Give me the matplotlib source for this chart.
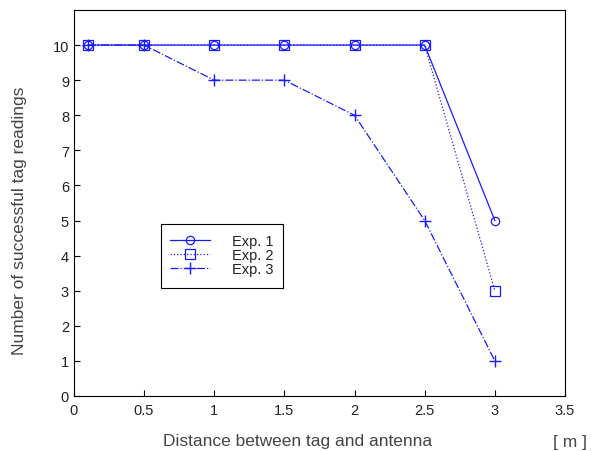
import matplotlib
matplotlib.use("Agg")
import matplotlib.pyplot as plt
from matplotlib.patches import Rectangle

plt.rcParams['font.family'] = ['Liberation Sans', 'DejaVu Sans']

distance = [0.1, 0.5, 1.0, 1.5, 2.0, 2.5, 3.0]
exp1 = [10, 10, 10, 10, 10, 10, 5]
exp2 = [10, 10, 10, 10, 10, 10, 3]
exp3 = [10, 10, 9, 9, 8, 5, 1]

x_ticks = [0, 0.5, 1, 1.5, 2, 2.5, 3, 3.5]
y_ticks = list(range(0, 11))

fig = plt.figure(figsize=(5.91, 4.52), dpi=100)
ax = fig.add_axes([0.125, 0.1217, 0.831, 0.854])

blue = '#1a1aff'
ax.plot(distance, exp1, '-', color=blue, lw=0.9, marker='o', ms=6,
        mfc='none', mec=blue, mew=0.9, label='Exp. 1')
ax.plot(distance, exp2, ':', color=blue, lw=0.9, marker='s', ms=7,
        mfc='none', mec=blue, mew=0.9, label='Exp. 2')
ax.plot(distance, exp3, '-.', color=blue, lw=0.9, marker='+', ms=8,
        mec=blue, mew=1.0, label='Exp. 3')

ax.set_xlim(0, 3.5)
ax.set_ylim(0, 11)
ax.set_xticks(x_ticks)
ax.set_xticklabels(['0', '0.5', '1', '1.5', '2', '2.5', '3', '3.5'])
ax.set_yticks(y_ticks)
ax.tick_params(direction='in', length=4, width=0.8, labelsize=10.5,
               labelcolor='#222222')
ax.tick_params(axis='x', pad=5)
for s in ax.spines.values():
    s.set_linewidth(0.8)

ax.set_xlabel('Distance between tag and antenna', fontsize=12.5,
              color='#444444')
ax.xaxis.set_label_coords(0.456, -0.096)
ax.set_ylabel('Number of successful tag readings', fontsize=12.5,
              color='#444444')
ax.yaxis.set_label_coords(-0.096, 0.456)
fig.text(0.993, 0.012, '[ m ]', fontsize=12.5, color='#444444', ha='right')

# legend frame drawn separately to match the reference box size
ax.add_patch(Rectangle((0.177, 0.279), 0.248, 0.166, transform=ax.transAxes,
                       fill=True, facecolor='white', edgecolor='black',
                       lw=0.8, zorder=4))
leg = ax.legend(loc='upper left', bbox_to_anchor=(0.177, 0.445),
                fontsize=10.5, frameon=False, borderpad=0.65, labelspacing=0.0,
                handlelength=2.7, handletextpad=1.5, borderaxespad=0)
leg.set_zorder(5)
for t in leg.get_texts():
    t.set_color('#222222')

fig.savefig('out.png', dpi=100)
